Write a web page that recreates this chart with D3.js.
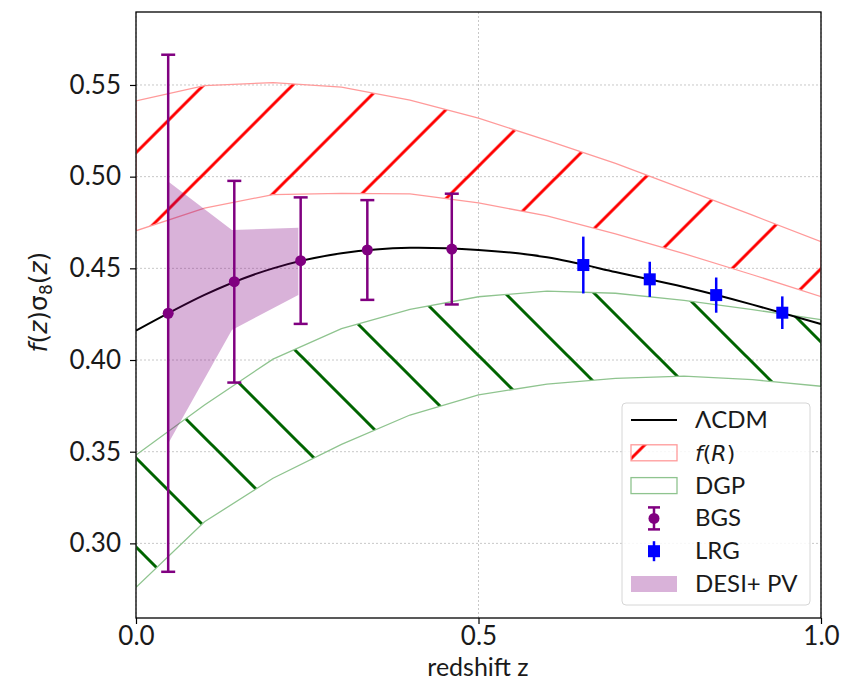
<!DOCTYPE html>
<html>
<head>
<meta charset="utf-8">
<script src="https://cdn.jsdelivr.net/npm/d3@7"></script>
<style>
  html, body { margin: 0; padding: 0; background: #fff; }
  svg { display: block; }
  text { font-family: Lato, "Open Sans", sans-serif; fill: #1a1a1a; }
</style>
</head>
<body>
<svg id="chart" width="851" height="689"></svg>
<script>
// Redshift sampling grid for the theory curves
const zGrid = [0, 0.1, 0.2, 0.3, 0.4, 0.5, 0.6, 0.7, 0.8, 0.9, 1.0];

// ΛCDM prediction of f(z)σ8(z)
const lcdm = [0.4160, 0.4355, 0.4500, 0.4582, 0.4612, 0.4600, 0.4560, 0.4480, 0.4398, 0.4302, 0.4196];

// f(R) envelope
const fRUpper = [0.5413, 0.5496, 0.5513, 0.5488, 0.5418, 0.5319, 0.5198, 0.5072, 0.4932, 0.4790, 0.4645];
const fRLower = [0.4705, 0.4829, 0.4902, 0.4909, 0.4906, 0.4857, 0.4786, 0.4688, 0.4580, 0.4465, 0.4346];

// DGP envelope
const dgpUpper = [0.3482, 0.3755, 0.4005, 0.4171, 0.4276, 0.4345, 0.4376, 0.4364, 0.4325, 0.4275, 0.4220];
const dgpLower = [0.2760, 0.3118, 0.3355, 0.3540, 0.3700, 0.3810, 0.3868, 0.3900, 0.3912, 0.3893, 0.3857];

// BGS forecast points
const bgsZ   = [0.047, 0.1435, 0.2404, 0.3377, 0.461];
const bgsF   = [0.4255, 0.4427, 0.4542, 0.4600, 0.4605];
const bgsErr = [0.1410, 0.0550, 0.0345, 0.0272, 0.0302];

// LRG forecast points
const lrgZ   = [0.653, 0.750, 0.847, 0.9435];
const lrgF   = [0.4518, 0.4440, 0.4354, 0.4258];
const lrgErr = [0.0155, 0.0096, 0.0096, 0.0089];

// DESI + peculiar velocities band
const pvZ     = [0.047, 0.140, 0.237];
const pvUpper = [0.4973, 0.4709, 0.4722];
const pvLower = [0.3545, 0.4164, 0.4354];

// Axis ticks
const xTicks = [0.0, 0.5, 1.0];
const yTicks = [0.30, 0.35, 0.40, 0.45, 0.50, 0.55];

const legendItems = ["ΛCDM", "f(R)", "DGP", "BGS", "LRG", "DESI+ PV"];

const svg = d3.select("#chart");
const pL = 136, pR = 821, pT = 12, pB = 618;
const mathFont = "'DejaVu Sans', sans-serif";

const x = d3.scaleLinear().domain([0, 1]).range([pL, pR]);
const y = d3.scaleLinear().domain([0.2593, 0.5898]).range([pB, pT]);

// hatch patterns (user-space, so lines line up across shapes and legend)
const defs = svg.append("defs");
const fwd = defs.append("pattern").attr("id", "hatchFwd")
  .attr("patternUnits", "userSpaceOnUse")
  .attr("x", 21.7).attr("y", 0).attr("width", 89).attr("height", 89);
[[-10, 99, 99, -10], [-10, 10, 10, -10], [79, 99, 99, 79]].forEach(s =>
  fwd.append("line").attr("x1", s[0]).attr("y1", s[1]).attr("x2", s[2]).attr("y2", s[3])
    .attr("stroke", "#ff0000").attr("stroke-width", 3));
const back = defs.append("pattern").attr("id", "hatchBack")
  .attr("patternUnits", "userSpaceOnUse")
  .attr("x", 34).attr("y", 0).attr("width", 89).attr("height", 89);
[[-10, -10, 99, 99], [79, -10, 99, 10], [-10, 79, 10, 99]].forEach(s =>
  back.append("line").attr("x1", s[0]).attr("y1", s[1]).attr("x2", s[2]).attr("y2", s[3])
    .attr("stroke", "#006400").attr("stroke-width", 3));

defs.append("clipPath").attr("id", "plotClip")
  .append("rect").attr("x", pL).attr("y", pT).attr("width", pR - pL).attr("height", pB - pT);

// grid
const grid = svg.append("g");
grid.selectAll("line.h").data(yTicks).join("line").attr("class", "h")
  .attr("x1", pL).attr("x2", pR)
  .attr("y1", d => y(d)).attr("y2", d => y(d))
  .attr("stroke", "#c8c8c8").attr("stroke-width", 1).attr("stroke-dasharray", "2,2");
grid.selectAll("line.v").data(xTicks).join("line").attr("class", "v")
  .attr("y1", pT).attr("y2", pB)
  .attr("x1", d => x(d)).attr("x2", d => x(d))
  .attr("stroke", "#c8c8c8").attr("stroke-width", 1).attr("stroke-dasharray", "2,2");

const plot = svg.append("g").attr("clip-path", "url(#plotClip)");

function bandPath(zs, lo, hi) {
  const pts = zs.map((z, i) => [x(z), y(hi[i])])
    .concat(zs.slice().reverse().map((z, j) => [x(z), y(lo[zs.length - 1 - j])]));
  return "M" + pts.map(p => p.join(",")).join("L") + "Z";
}

// f(R) band
plot.append("path").attr("d", bandPath(zGrid, fRLower, fRUpper))
  .attr("fill", "url(#hatchFwd)").attr("stroke", "#ff9a9a").attr("stroke-width", 1.3);
// DGP band
plot.append("path").attr("d", bandPath(zGrid, dgpLower, dgpUpper))
  .attr("fill", "url(#hatchBack)").attr("stroke", "#8fc48f").attr("stroke-width", 1.3);

// ΛCDM curve
plot.append("path").datum(zGrid.map((z, i) => [z, lcdm[i]]))
  .attr("d", d3.line().x(d => x(d[0])).y(d => y(d[1])).curve(d3.curveNatural))
  .attr("fill", "none").attr("stroke", "#000").attr("stroke-width", 2);

// DESI + PV band
plot.append("path").attr("d", bandPath(pvZ, pvLower, pvUpper))
  .attr("fill", "#800080").attr("fill-opacity", 0.3).attr("stroke", "none");

// BGS error bars
const bgs = plot.append("g");
bgsZ.forEach((z, i) => {
  const g = bgs.append("g").attr("stroke", "#800080").attr("stroke-width", 2.5);
  g.append("line").attr("x1", x(z)).attr("x2", x(z))
    .attr("y1", y(bgsF[i] - bgsErr[i])).attr("y2", y(bgsF[i] + bgsErr[i]));
  [bgsF[i] - bgsErr[i], bgsF[i] + bgsErr[i]].forEach(v =>
    g.append("line").attr("x1", x(z) - 7).attr("x2", x(z) + 7).attr("y1", y(v)).attr("y2", y(v)));
  bgs.append("circle").attr("cx", x(z)).attr("cy", y(bgsF[i])).attr("r", 5.5).attr("fill", "#800080");
});

// LRG error bars
const lrg = plot.append("g");
lrgZ.forEach((z, i) => {
  lrg.append("line").attr("x1", x(z)).attr("x2", x(z))
    .attr("y1", y(lrgF[i] - lrgErr[i])).attr("y2", y(lrgF[i] + lrgErr[i]))
    .attr("stroke", "#0000ff").attr("stroke-width", 2.5);
  lrg.append("rect").attr("x", x(z) - 6).attr("y", y(lrgF[i]) - 6)
    .attr("width", 12).attr("height", 12).attr("fill", "#0000ff");
});

// axes
const xAxis = svg.append("g").attr("transform", `translate(0,${pB})`)
  .call(d3.axisBottom(x).tickValues(xTicks).tickFormat(d3.format(".1f")).tickSize(6).tickPadding(3));
const yAxis = svg.append("g").attr("transform", `translate(${pL},0)`)
  .call(d3.axisLeft(y).tickValues(yTicks).tickFormat(d3.format(".2f")).tickSize(6).tickPadding(9));
[xAxis, yAxis].forEach(a => {
  a.selectAll(".domain").remove();
  a.selectAll(".tick line").attr("stroke", "#000").attr("stroke-width", 1.2);
  a.selectAll(".tick text").style("font-family", "Lato, sans-serif").style("font-size", "26px").attr("fill", "#1a1a1a");
});

// frame
svg.append("rect").attr("x", pL).attr("y", pT).attr("width", pR - pL).attr("height", pB - pT)
  .attr("fill", "none").attr("stroke", "#000").attr("stroke-width", 1.3);

// axis labels
svg.append("text").attr("x", 478).attr("y", 676).attr("text-anchor", "middle")
  .style("font-size", "25px").text("redshift z");
const yl = svg.append("text").attr("transform", "translate(47,302) rotate(-90)")
  .attr("text-anchor", "middle").style("font-size", "25px").style("font-family", mathFont);
yl.append("tspan").style("font-style", "italic").text("f");
yl.append("tspan").text("(");
yl.append("tspan").style("font-style", "italic").text("z");
yl.append("tspan").text(")σ");
yl.append("tspan").attr("dy", 5).style("font-size", "17px").text("8");
yl.append("tspan").attr("dy", -5).text("(");
yl.append("tspan").style("font-style", "italic").text("z");
yl.append("tspan").text(")");

// legend
const lg = svg.append("g");
lg.append("rect").attr("x", 622).attr("y", 403).attr("width", 188).attr("height", 202)
  .attr("rx", 4).attr("fill", "#fff").attr("fill-opacity", 0.85)
  .attr("stroke", "#d6d6d6").attr("stroke-width", 1);
const rowY = d => 420 + d * 32.8;
const hx0 = 631, hx1 = 677, tx = 695;
legendItems.forEach((label, i) => {
  const cy = rowY(i);
  if (i === 0) {
    lg.append("line").attr("x1", hx0).attr("x2", hx1).attr("y1", cy).attr("y2", cy)
      .attr("stroke", "#000").attr("stroke-width", 2);
  } else if (i === 1) {
    lg.append("rect").attr("x", hx0).attr("y", cy - 8).attr("width", hx1 - hx0).attr("height", 16)
      .attr("fill", "url(#hatchFwd)").attr("stroke", "#ff9a9a").attr("stroke-width", 1.3);
  } else if (i === 2) {
    lg.append("rect").attr("x", hx0).attr("y", cy - 8).attr("width", hx1 - hx0).attr("height", 16)
      .attr("fill", "url(#hatchBack)").attr("stroke", "#8fc48f").attr("stroke-width", 1.3);
  } else if (i === 3) {
    const cx = (hx0 + hx1) / 2;
    const g = lg.append("g").attr("stroke", "#800080").attr("stroke-width", 2.5);
    g.append("line").attr("x1", cx).attr("x2", cx).attr("y1", cy - 11).attr("y2", cy + 11);
    g.append("line").attr("x1", cx - 6).attr("x2", cx + 6).attr("y1", cy - 11).attr("y2", cy - 11);
    g.append("line").attr("x1", cx - 6).attr("x2", cx + 6).attr("y1", cy + 11).attr("y2", cy + 11);
    lg.append("circle").attr("cx", cx).attr("cy", cy).attr("r", 5.5).attr("fill", "#800080");
  } else if (i === 4) {
    const cx = (hx0 + hx1) / 2;
    lg.append("line").attr("x1", cx).attr("x2", cx).attr("y1", cy - 10).attr("y2", cy + 10)
      .attr("stroke", "#0000ff").attr("stroke-width", 2.5);
    lg.append("rect").attr("x", cx - 6).attr("y", cy - 6).attr("width", 12).attr("height", 12).attr("fill", "#0000ff");
  } else {
    lg.append("rect").attr("x", hx0).attr("y", cy - 8).attr("width", hx1 - hx0).attr("height", 16)
      .attr("fill", "#800080").attr("fill-opacity", 0.3);
  }
  const t = lg.append("text").attr("x", tx).attr("y", cy + 8).style("font-size", "24px");
  if (label === "f(R)") {
    t.style("font-family", mathFont).style("font-size", "22px");
    t.append("tspan").style("font-style", "italic").text("f");
    t.append("tspan").text("(");
    t.append("tspan").style("font-style", "italic").text("R");
    t.append("tspan").text(")");
  } else {
    t.text(label);
  }
});
</script>
</body>
</html>
